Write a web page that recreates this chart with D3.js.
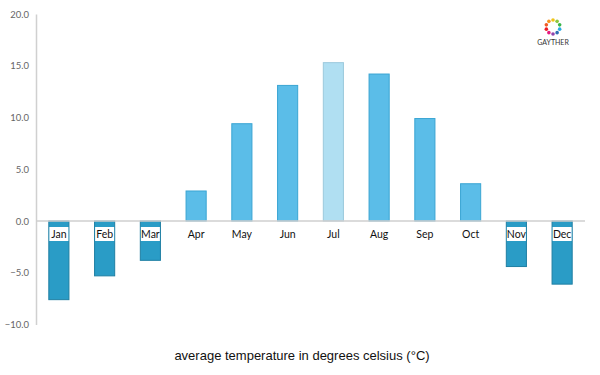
<!DOCTYPE html>
<html>
<head>
<meta charset="utf-8">
<script src="https://cdn.jsdelivr.net/npm/d3@7"></script>
<style>
  body { margin: 0; background: #fff; }
  svg { display: block; }
</style>
</head>
<body>
<svg id="chart" width="600" height="375"></svg>
<script>
// Monthly average temperatures
const months = ['Jan', 'Feb', 'Mar', 'Apr', 'May', 'Jun', 'Jul', 'Aug', 'Sep', 'Oct', 'Nov', 'Dec'];
const temps = [-7.6, -5.3, -3.8, 2.9, 9.4, 13.1, 15.3, 14.2, 9.9, 3.6, -4.4, -6.1];
const yTicks = [-10, -5, 0, 5, 10, 15, 20];
const highlight = 'Jul';
const caption = 'average temperature in degrees celsius (°C)';

const svg = d3.select('#chart');
const plotLeft = 36, plotRight = 585, plotTop = 14, plotBottom = 324.5;

const x = d3.scaleBand().domain(months).range([plotLeft, plotRight]).paddingInner(0.56).paddingOuter(0.28);
const y = d3.scaleLinear().domain([-10, 20]).range([plotBottom, plotTop]);

const fmt = d3.format('.1f');

// y axis
const yAxis = svg.append('g')
  .attr('transform', `translate(${plotLeft},0)`)
  .call(d3.axisLeft(y).tickValues(yTicks).tickSize(0).tickPadding(7).tickFormat(fmt));
yAxis.select('.domain').attr('stroke', '#d0d0d0').attr('stroke-width', 1.5);
yAxis.selectAll('text')
  .attr('fill', '#666')
  .style('font-family', 'Lato, "DejaVu Sans", sans-serif')
  .style('font-size', '9.5px');

const data = months.map((m, i) => ({ month: m, value: temps[i] }));

function fillOf(d) {
  if (d.month === highlight) return '#b0dff2';
  return d.value < 0 ? '#2a9cc6' : '#5bbde8';
}
function strokeOf(d) {
  if (d.month === highlight) return '#9cc9dc';
  return d.value < 0 ? '#1f7fa3' : '#3aa5d3';
}

svg.append('g')
  .selectAll('rect')
  .data(data)
  .join('rect')
  .attr('x', d => x(d.month))
  .attr('width', x.bandwidth())
  .attr('y', d => y(Math.max(0, d.value)))
  .attr('height', d => Math.abs(y(d.value) - y(0)))
  .attr('fill', fillOf)
  .attr('stroke', strokeOf)
  .attr('stroke-width', 1);

// zero baseline
svg.append('line')
  .attr('x1', plotLeft).attr('x2', plotRight)
  .attr('y1', y(0)).attr('y2', y(0))
  .attr('stroke', '#cfcfcf')
  .attr('stroke-width', 1.5);

// month labels, white box behind those on negative bars
const labels = svg.append('g')
  .selectAll('g')
  .data(data)
  .join('g')
  .attr('transform', d => `translate(${x(d.month) + x.bandwidth() / 2},${y(0) + 17})`);

labels.filter(d => d.value < 0)
  .append('rect')
  .attr('x', -9.5).attr('y', -11)
  .attr('width', 19).attr('height', 14)
  .attr('fill', '#fff');

labels.append('text')
  .attr('text-anchor', 'middle')
  .attr('fill', '#111')
  .style('font-family', 'Lato, "DejaVu Sans", sans-serif')
  .style('font-size', '10.5px')
  .text(d => d.month);

// caption
svg.append('text')
  .attr('x', 302).attr('y', 360)
  .attr('text-anchor', 'middle')
  .attr('fill', '#111')
  .style('font-family', '"Liberation Sans", Arial, sans-serif')
  .style('font-size', '13px')
  .text(caption);

// logo: ring of coloured dots above "GAYTHER"
const logo = svg.append('g').attr('transform', 'translate(553,27)');
const logoColours = ['#f0c419', '#8cc63f', '#39b54a', '#29abe2', '#2e6db4', '#8e44ad', '#e6197e', '#ed1c24', '#f15a24', '#f7931e'];
logo.selectAll('circle')
  .data(logoColours)
  .join('circle')
  .attr('cx', (d, i) => 7 * Math.sin(i / logoColours.length * 2 * Math.PI))
  .attr('cy', (d, i) => -7 * Math.cos(i / logoColours.length * 2 * Math.PI))
  .attr('r', 1.8)
  .attr('fill', d => d);
svg.append('text')
  .attr('x', 553).attr('y', 45)
  .attr('text-anchor', 'middle')
  .attr('fill', '#333')
  .style('font-family', 'Lato, "DejaVu Sans", sans-serif')
  .style('font-size', '7px')
  .text('GAYTHER');
</script>
</body>
</html>
